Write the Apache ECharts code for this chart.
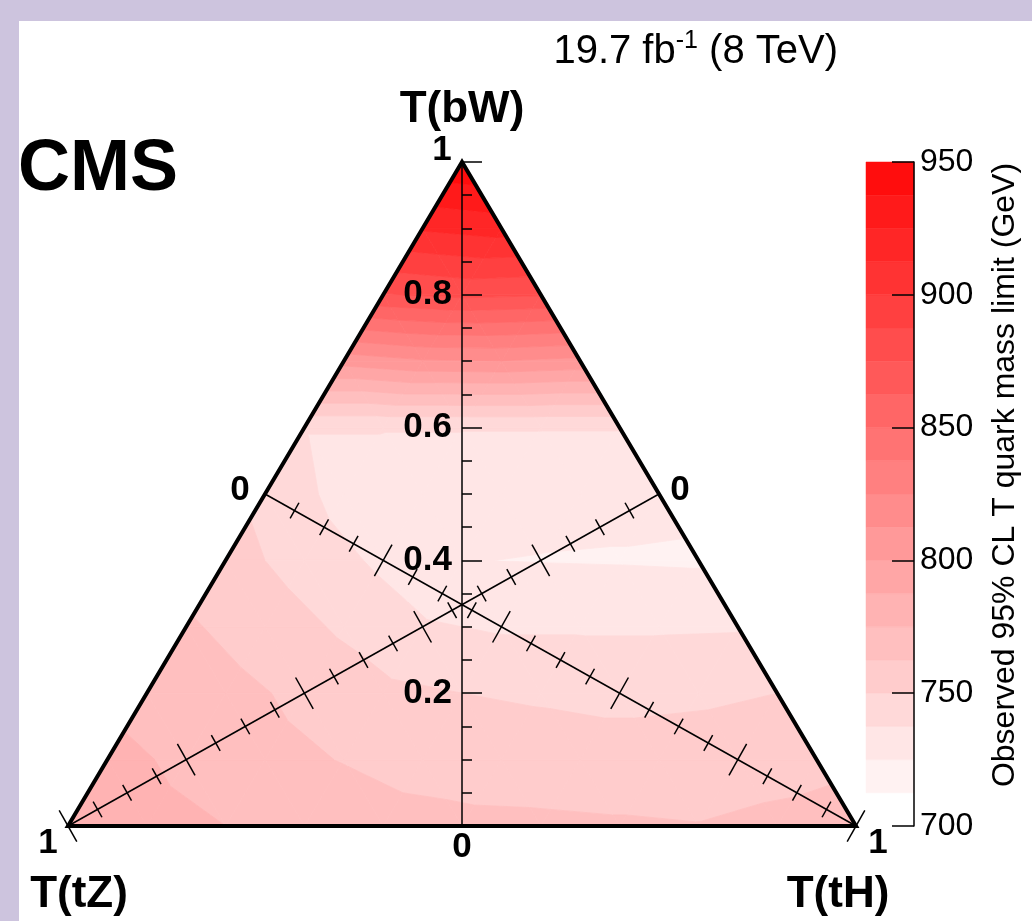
<!DOCTYPE html>
<html>
<head>
<meta charset="utf-8">
<script src="https://cdn.jsdelivr.net/npm/echarts@6/dist/echarts.min.js"></script>
<style>
  html, body { margin: 0; padding: 0; background: #ffffff; }
  #chart { width: 1032px; height: 921px; }
</style>
</head>
<body>
<div id="chart"></div>
<script>
// Observed 95% CL T quark mass limit (GeV) over the branching-fraction triangle.
// One array per B(T->bW) row; entries run over B(T->tH) = 0, 0.1, 0.2, ...
const limitBW00 = [781, 778, 775, 771, 767, 765.5, 765, 764, 763, 766, 770];
const limitBW01 = [778, 773, 766, 762, 758, 756, 755, 755, 756, 758];
const limitBW02 = [771, 766, 760, 753, 750, 748.5, 747, 748, 750];
const limitBW03 = [764, 757, 748, 739, 736, 736, 736, 736.5];
const limitBW04 = [755, 745, 735, 725.3, 724.6, 724.2, 723.5];
const limitBW05 = [747, 733, 731, 729, 728, 728];
const limitBW06 = [738, 738, 738, 738, 738];
const limitBW07 = [805, 811, 812, 809];
const limitBW08 = [874, 878, 876];
const limitBW09 = [914, 918];
const limitBW10 = [948];

// Branching-fraction steps of the grid rows / columns
const fractionSteps = [0, 0.1, 0.2, 0.3, 0.4, 0.5, 0.6, 0.7, 0.8, 0.9, 1.0];

// Contour levels (GeV)
const contourLevels = [700, 712.5, 725, 737.5, 750, 762.5, 775, 787.5, 800, 812.5, 825,
                       837.5, 850, 862.5, 875, 887.5, 900, 912.5, 925, 937.5, 950];

// Tick positions on the two inner (median) axes
const medianTicks = [0.05, 0.1, 0.15, 0.2, 0.25, 0.3, 0.35, 0.4, 0.45, 0.5,
                     0.55, 0.6, 0.65, 0.7, 0.75, 0.8, 0.85, 0.9, 0.95, 1.0];
const medianMajorTicks = [0.2, 0.4, 0.6, 0.8, 1.0];

// Axis titles
const vertexTitles = ['T(bW)', 'T(tZ)', 'T(tH)'];
const colorbarTitle = 'Observed 95% CL T quark mass limit (GeV)';

const FONT = '"Liberation Sans", Arial, Helvetica, sans-serif';
const LAVENDER = '#cdc4de';

// Ternary -> plane: x = B(tH) - B(tZ), y = B(bW)
function ternaryXY(bw, th) {
  const tz = 1 - bw - th;
  return [th - tz, bw];
}

// Grid nodes carrying the limit values
const limitRows = [limitBW00, limitBW01, limitBW02, limitBW03, limitBW04, limitBW05,
                   limitBW06, limitBW07, limitBW08, limitBW09, limitBW10];
const nodes = limitRows.map((row, i) => row.map((v, j) => {
  const p = ternaryXY(fractionSteps[i], fractionSteps[j]);
  return { x: p[0], y: p[1], v: v };
}));

// Triangulate the grid
const cells = [];
for (let i = 0; i < limitRows.length - 1; i++) {
  const n = limitRows[i].length;
  for (let j = 0; j < n - 1; j++) {
    cells.push([nodes[i][j], nodes[i][j + 1], nodes[i + 1][j]]);
    if (j < n - 2) cells.push([nodes[i][j + 1], nodes[i + 1][j + 1], nodes[i + 1][j]]);
  }
}

// Clip a polygon (linear field inside) against a level
function clipPoly(poly, level, keepAbove) {
  const out = [];
  for (let i = 0; i < poly.length; i++) {
    const a = poly[i], c = poly[(i + 1) % poly.length];
    const aIn = keepAbove ? a.v >= level : a.v <= level;
    const cIn = keepAbove ? c.v >= level : c.v <= level;
    if (aIn) out.push(a);
    if (aIn !== cIn) {
      const t = (level - a.v) / (c.v - a.v);
      out.push({ x: a.x + t * (c.x - a.x), y: a.y + t * (c.y - a.y), v: level });
    }
  }
  return out;
}
function polyArea(p) {
  let s = 0;
  for (let i = 0; i < p.length; i++) {
    const a = p[i], b = p[(i + 1) % p.length];
    s += a.x * b.y - b.x * a.y;
  }
  return Math.abs(s) / 2;
}

// Filled contour bands
const bandPolys = [];
cells.forEach(tri => {
  for (let k = 0; k < contourLevels.length - 1; k++) {
    let p = clipPoly(tri, contourLevels[k], true);
    if (p.length < 3) continue;
    p = clipPoly(p, contourLevels[k + 1], false);
    if (p.length < 3 || polyArea(p) < 1e-10) continue;
    bandPolys.push({ level: contourLevels[k], pts: p });
  }
});

const colorbarData = contourLevels.slice(0, -1).map((lo, k) => [lo, contourLevels[k + 1]]);

// Points along the medians: tZ axis runs from the right-edge midpoint (0) to the tZ corner (1),
// tH axis from the left-edge midpoint (0) to the tH corner (1)
function medianPoint(axis, s) {
  return axis === 0 ? ternaryXY((1 - s) / 2, (1 - s) / 2) : ternaryXY((1 - s) / 2, s);
}

const annotations = [
  { text: vertexTitles[0], at: [1, 0], dx: 0, dy: -52, size: 44 },
  { text: vertexTitles[1], at: [0, 0], dx: 11, dy: 69, size: 44 },
  { text: vertexTitles[2], at: [0, 1], dx: -18, dy: 69, size: 44 },
  { text: '1', at: [1, 0], dx: -20, dy: -12, size: 35 },
  { text: '0', at: [0, 0.5], dx: 0, dy: 21, size: 35 },
  { text: '1', at: [0, 0], dx: -20, dy: 17, size: 35 },
  { text: '1', at: [0, 1], dx: 22, dy: 17, size: 35 },
  { text: '0', at: [0.5, 0], dx: -25, dy: -4, size: 35 },
  { text: '0', at: [0.5, 0.5], dx: 21, dy: -4, size: 35 }
];

const chart = echarts.init(document.getElementById('chart'), null, { renderer: 'canvas' });

const option = {
  backgroundColor: '#ffffff',
  animation: false,
  grid: [
    { left: 68, top: 162, width: 788, height: 664 },   // ternary plane
    { left: 866, top: 162, width: 48, height: 664 },   // colour scale
    { left: 462, top: 162, width: 100, height: 664 }   // B(bW) axis along the vertical median
  ],
  xAxis: [
    { gridIndex: 0, type: 'value', min: -1, max: 1, show: false },
    { gridIndex: 1, type: 'value', min: 0, max: 1, show: false },
    { gridIndex: 2, type: 'value', min: 0, max: 1, show: false }
  ],
  yAxis: [
    { gridIndex: 0, type: 'value', min: 0, max: 1, show: false },
    {
      gridIndex: 1, type: 'value', min: 700, max: 950, interval: 50, position: 'right', z: 5,
      axisLine: { show: true, onZero: false, lineStyle: { color: '#000', width: 1.5 } },
      axisTick: { show: true, inside: true, length: 22, lineStyle: { color: '#000', width: 1.5 } },
      axisLabel: { color: '#000', fontSize: 32, fontFamily: FONT, margin: 6 },
      splitLine: { show: false }
    },
    {
      gridIndex: 2, type: 'value', min: 0, max: 1, interval: 0.2, position: 'left', z: 5,
      axisLine: { show: true, onZero: false, lineStyle: { color: '#000', width: 1.5 } },
      axisTick: { show: true, inside: true, length: 20, lineStyle: { color: '#000', width: 1.5 } },
      minorTick: { show: true, splitNumber: 4, length: 10, lineStyle: { color: '#000', width: 1.5 } },
      axisLabel: {
        color: '#000', fontSize: 35, fontWeight: 'bold', fontFamily: FONT, margin: 10,
        formatter: v => (v > 0.01 && v < 0.99) ? v.toFixed(1) : ''
      },
      splitLine: { show: false }
    }
  ],
  visualMap: {
    show: false, type: 'continuous', min: 700, max: 950, dimension: 0,
    seriesIndex: [0, 4],
    inRange: { color: ['#ffffff', '#ff0000'] }
  },
  graphic: [
    { type: 'rect', silent: true, shape: { x: 0, y: 0, width: 1032, height: 21 }, style: { fill: LAVENDER } },
    { type: 'rect', silent: true, shape: { x: 0, y: 0, width: 19, height: 921 }, style: { fill: LAVENDER } },
    {
      type: 'text', x: 18, y: 170,
      style: { text: 'CMS', font: 'bold 72px ' + FONT, fill: '#000', align: 'left', verticalAlign: 'middle' }
    },
    {
      type: 'text', x: 838, y: 52,
      style: {
        text: '{a|19.7 fb}{s|-1}{a| (8 TeV)}', align: 'right', verticalAlign: 'middle',
        rich: {
          a: { fontSize: 40, fontFamily: FONT, lineHeight: 46, fill: '#000' },
          s: { fontSize: 25, fontFamily: FONT, lineHeight: 31, verticalAlign: 'top', fill: '#000' }
        }
      }
    },
    {
      type: 'text', x: 1005, y: 475, rotation: Math.PI / 2,
      style: {
        text: colorbarTitle, font: '32px ' + FONT, fill: '#000',
        align: 'center', verticalAlign: 'middle'
      }
    }
  ],
  series: [
    {
      // filled contour bands
      type: 'custom', xAxisIndex: 0, yAxisIndex: 0, z: 2, silent: true,
      data: bandPolys.map((p, i) => [p.level, i]),
      renderItem: function (params, api) {
        const poly = bandPolys[api.value(1)];
        const color = api.visual('color');
        return {
          type: 'polygon',
          shape: { points: poly.pts.map(q => api.coord([q.x, q.y])) },
          style: { fill: color, stroke: color, lineWidth: 0.8 }
        };
      }
    },
    {
      // inner axes for B(tZ) and B(tH) along the medians
      type: 'custom', xAxisIndex: 0, yAxisIndex: 0, z: 5, silent: true,
      data: [[0], [1]],
      renderItem: function (params, api) {
        const axis = params.dataIndex;
        const p0 = api.coord(medianPoint(axis, 0));
        const p1 = api.coord(medianPoint(axis, 1));
        const len = Math.hypot(p1[0] - p0[0], p1[1] - p0[1]);
        const nx = -(p1[1] - p0[1]) / len, ny = (p1[0] - p0[0]) / len;
        const lineStyle = { stroke: '#000', lineWidth: 1.5 };
        const children = [{
          type: 'line', shape: { x1: p0[0], y1: p0[1], x2: p1[0], y2: p1[1] }, style: lineStyle
        }];
        medianTicks.forEach(s => {
          const c = api.coord(medianPoint(axis, s));
          const half = medianMajorTicks.indexOf(s) >= 0 ? 18 : 9;
          children.push({
            type: 'line',
            shape: { x1: c[0] - nx * half, y1: c[1] - ny * half, x2: c[0] + nx * half, y2: c[1] + ny * half },
            style: lineStyle
          });
        });
        return { type: 'group', children: children };
      }
    },
    {
      // triangle frame
      type: 'custom', xAxisIndex: 0, yAxisIndex: 0, z: 6, silent: true,
      data: [[0]],
      renderItem: function (params, api) {
        return {
          type: 'polygon',
          shape: { points: [api.coord(ternaryXY(1, 0)), api.coord(ternaryXY(0, 0)), api.coord(ternaryXY(0, 1))] },
          style: { fill: 'none', stroke: '#000', lineWidth: 4, lineJoin: 'miter' }
        };
      }
    },
    {
      // corner and axis-end labels
      type: 'custom', xAxisIndex: 0, yAxisIndex: 0, z: 7, silent: true,
      data: annotations.map((a, i) => [i]),
      renderItem: function (params, api) {
        const a = annotations[params.dataIndex];
        const c = api.coord(ternaryXY(a.at[0], a.at[1]));
        return {
          type: 'text', x: c[0] + a.dx, y: c[1] + a.dy,
          style: {
            text: a.text, font: 'bold ' + a.size + 'px ' + FONT, fill: '#000',
            align: 'center', verticalAlign: 'middle'
          }
        };
      }
    },
    {
      // colour scale
      type: 'custom', xAxisIndex: 1, yAxisIndex: 1, z: 2, silent: true,
      data: colorbarData,
      renderItem: function (params, api) {
        const tl = api.coord([0, api.value(1)]);
        const br = api.coord([1, api.value(0)]);
        const color = api.visual('color');
        return {
          type: 'rect',
          shape: { x: tl[0], y: tl[1], width: br[0] - tl[0], height: br[1] - tl[1] },
          style: { fill: color, stroke: color, lineWidth: 0.5 }
        };
      }
    }
  ]
};

chart.setOption(option);
</script>
</body>
</html>
